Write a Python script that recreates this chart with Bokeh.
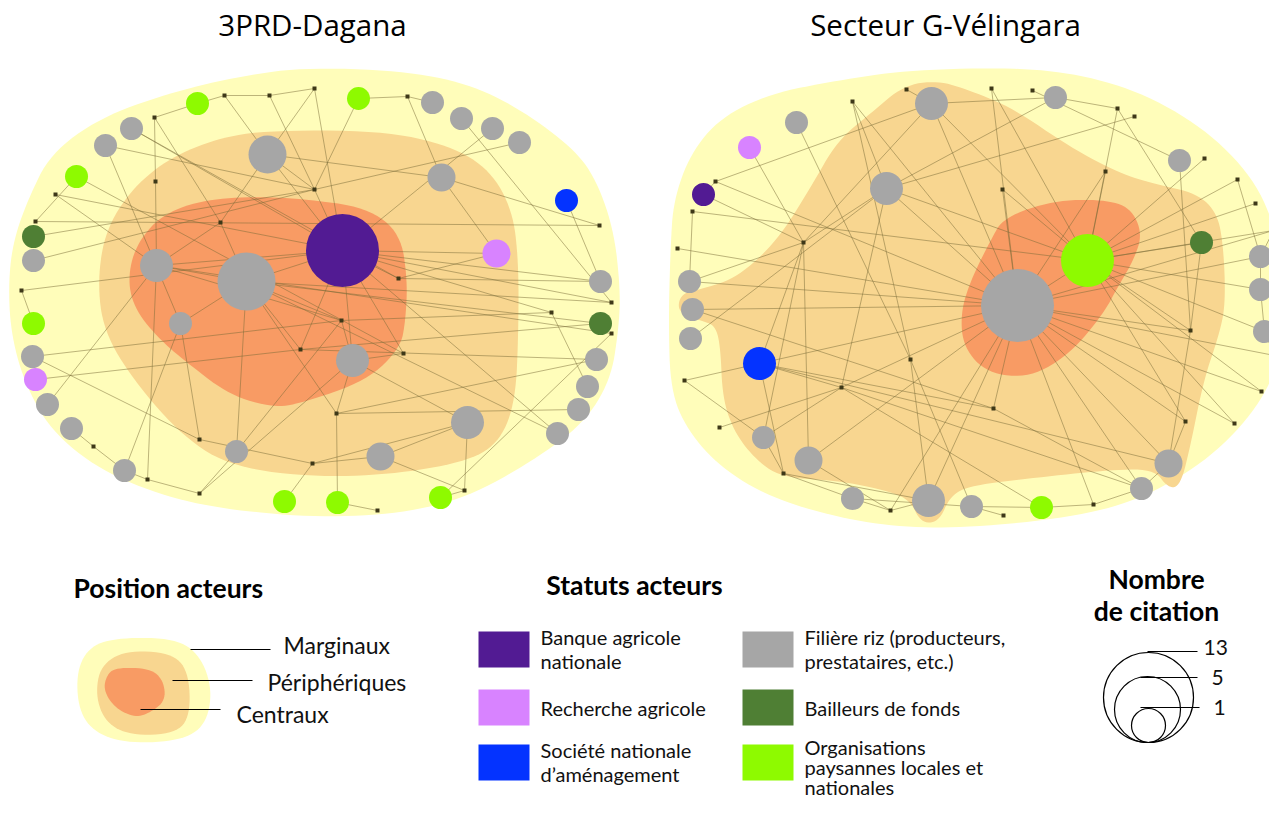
import numpy as np
from bokeh.plotting import figure
from bokeh.models import Range1d
from bokeh.embed import file_html
from bokeh.resources import INLINE
from bokeh.core.properties import value

# ---------------- DATA ----------------
titles = ["3PRD-Dagana", "Secteur G-Vélingara"]

# Left network (3PRD-Dagana): actors
left_x = [342, 246, 267, 156, 180, 352, 441, 467, 380, 236, 496, 566, 197, 358, 76, 33, 284, 337, 440, 33, 600,
          131, 105, 432, 461, 492, 519, 33, 32, 47, 71, 124, 600, 596, 587, 578, 557, 35,
          224, 269, 314, 407, 154, 155, 55, 35, 314, 220, 21, 599, 398, 93, 147, 199, 199, 300, 312, 611, 551, 611,
          341, 403, 336, 464, 377]
left_y = [250, 281, 154, 265, 323, 360, 177, 422, 456, 451, 253, 200, 103, 98, 176, 323, 501, 502, 497, 236, 323,
          128, 145, 102, 118, 128, 142, 260, 356, 404, 428, 470, 281, 359, 386, 409, 433, 379,
          95, 95, 88, 96, 117, 181, 194, 221, 189, 222, 290, 225, 278, 446, 479, 493, 439, 349, 463, 302, 312, 333,
          320, 353, 413, 490, 510]
left_type = (["banque", "riz", "riz", "riz", "riz", "riz", "riz", "riz", "riz", "riz", "recherche", "sna",
              "op", "op", "op", "op", "op", "op", "op", "bailleur", "bailleur"]
             + ["riz"] * 16 + ["recherche"] + ["point"] * 27)
left_cit = ([11, 8, 4, 3, 1, 3, 2, 3, 2, 1, 2, 1] + [1] * 26 + [0] * 27)
left_edges = [(12, 38), (38, 39), (39, 40), (38, 2), (40, 2), (39, 46), (42, 12), (42, 43), (43, 3), (42, 47),
              (22, 46), (44, 3), (44, 0), (19, 46), (27, 46), (48, 0), (48, 15), (47, 3), (47, 2), (47, 1),
              (46, 2), (46, 0), (13, 41), (41, 23), (13, 46), (40, 0), (41, 6), (6, 10), (6, 49), (24, 57),
              (25, 0), (26, 46), (11, 32), (0, 32), (0, 58), (0, 57), (10, 50), (28, 54), (37, 55), (29, 3),
              (30, 51), (51, 31), (31, 52), (52, 53), (52, 3), (53, 9), (54, 56), (54, 4), (4, 1), (9, 1),
              (16, 56), (56, 8), (5, 60), (5, 61), (5, 62), (62, 17), (62, 33), (17, 64), (7, 63), (7, 5),
              (7, 8), (7, 56), (18, 59), (58, 34), (0, 36), (20, 55), (57, 1), (59, 3), (0, 10), (0, 50),
              (0, 3), (0, 1), (0, 5), (0, 55), (0, 61), (1, 60), (1, 3), (1, 55), (1, 62), (3, 60), (2, 6),
              (2, 0), (21, 0), (14, 45), (45, 49), (5, 53), (8, 63), (63, 18), (60, 58), (50, 32), (1, 20),
              (14, 61), (21, 50), (35, 62), (36, 1), (9, 60), (22, 4), (31, 4), (28, 60), (55, 33)]

# Right network (Secteur G-Vélingara): actors
right_x = [1017, 1087, 931, 886, 759, 928, 796, 749, 703, 689, 692, 690, 763, 808, 852, 971, 1041, 1141, 1168,
           1055, 1179, 1201, 1260, 1260, 1264,
           906, 852, 715, 692, 803, 677, 991, 1032, 1117, 1134, 1204, 1105, 1002, 1237, 1255, 1273, 684, 719, 783,
           841, 910, 890, 1190, 1274, 1261, 1234, 1185, 993, 1093, 1003]
right_y = [305, 260, 103, 188, 363, 500, 122, 147, 194, 281, 309, 338, 437, 460, 498, 506, 507, 488, 463,
           97, 160, 242, 256, 289, 331,
           89, 101, 181, 211, 242, 248, 88, 90, 108, 116, 158, 171, 189, 179, 203, 230, 380, 427, 473,
           387, 359, 510, 330, 355, 391, 423, 421, 408, 504, 515]
right_type = (["riz", "op", "riz", "riz", "sna", "riz", "riz", "recherche", "banque", "riz", "riz", "riz", "riz",
               "riz", "riz", "riz", "op", "riz", "riz", "riz", "riz", "bailleur", "riz", "riz", "riz"]
              + ["point"] * 30)
right_cit = ([11, 7, 3, 3, 3, 3, 1, 1, 1, 1, 1, 1, 1, 2, 1, 1, 1, 1, 2, 1, 1, 1, 1, 1, 1] + [0] * 30)
right_edges = [(25, 2), (2, 27), (8, 29), (28, 1), (28, 9), (30, 0), (7, 29), (6, 45), (29, 2), (29, 9), (29, 3),
               (29, 13), (29, 12), (26, 3), (26, 45), (3, 34), (3, 44), (2, 19), (2, 1), (31, 0), (31, 1),
               (32, 20), (19, 33), (19, 3), (33, 1), (33, 21), (36, 1), (36, 0), (37, 0), (37, 1), (35, 1),
               (38, 1), (38, 22), (39, 1), (40, 22), (40, 0), (21, 47), (20, 47), (22, 23), (23, 24), (24, 48),
               (0, 48), (0, 49), (0, 50), (0, 51), (0, 47), (0, 18), (0, 17), (0, 52), (0, 53), (52, 17),
               (1, 51), (51, 18), (47, 18), (18, 17), (16, 53), (15, 16), (15, 54), (16, 44), (4, 18), (10, 52),
               (11, 3), (4, 41), (4, 0), (4, 43), (4, 52), (4, 29), (41, 12), (42, 44), (44, 0), (44, 12),
               (44, 17), (13, 0), (13, 46), (43, 14), (43, 5), (46, 5), (46, 0), (14, 15), (14, 46), (45, 5),
               (45, 15), (5, 0), (12, 43), (0, 1), (9, 0), (1, 50), (1, 49), (1, 21), (1, 23), (1, 24), (1, 47),
               (3, 1), (3, 0), (8, 27), (2, 0), (27, 0), (10, 0), (4, 44), (0, 22), (1, 40), (26, 0), (17, 53)]

# Position zones (outlines)
left_marg_x = [300, 400, 467, 517, 567, 593, 613, 620, 618, 610, 583, 533, 467, 400, 320, 233, 167, 100, 50, 23, 10, 8, 13, 27, 50, 100, 167, 233]
left_marg_y = [67, 70, 83, 107, 143, 173, 227, 290, 330, 380, 423, 460, 497, 513, 517, 510, 497, 470, 430, 380, 330, 280, 240, 200, 153, 117, 93, 77]
left_peri_x = [260, 380, 450, 490, 512, 518, 518, 515, 500, 470, 400, 320, 233, 183, 133, 103, 97, 105, 130, 165, 210]
left_peri_y = [130, 130, 145, 170, 210, 260, 330, 400, 440, 460, 473, 477, 467, 437, 380, 330, 280, 230, 190, 160, 140]
left_cent_x = [300, 367, 400, 407, 405, 400, 367, 300, 273, 230, 190, 160, 135, 127, 135, 160, 200, 250]
left_cent_y = [198, 207, 233, 280, 320, 347, 380, 403, 407, 395, 365, 340, 310, 280, 245, 215, 200, 196]

right_marg_x = [1003, 1070, 1137, 1203, 1253, 1277, 1286, 1285, 1279, 1253, 1203, 1137, 1070, 970, 903, 837, 770, 720, 687, 670, 668, 670, 673, 690, 720, 770, 837, 903]
right_marg_y = [67, 72, 90, 127, 177, 233, 293, 330, 363, 413, 463, 500, 517, 527, 527, 517, 497, 467, 430, 390, 320, 247, 200, 153, 117, 93, 80, 70]
right_peri_x = [903, 937, 970, 1013, 1070, 1120, 1153, 1197, 1217, 1223, 1225, 1220, 1203, 1190, 1180, 1168, 1153, 1103, 1037, 970, 950, 938, 920, 910, 887, 837, 780, 753, 733, 722, 720, 715, 700, 677, 680, 703, 737, 777, 810, 837, 870]
right_peri_y = [85, 80, 90, 108, 147, 173, 183, 193, 213, 247, 300, 330, 380, 445, 485, 488, 468, 470, 477, 485, 495, 522, 522, 500, 490, 480, 477, 457, 430, 397, 347, 325, 320, 312, 293, 288, 277, 240, 187, 140, 113]
right_cent_x = [1053, 1103, 1130, 1142, 1133, 1117, 1103, 1070, 1030, 987, 963, 960, 970, 990, 1003]
right_cent_y = [200, 199, 207, 233, 260, 287, 313, 353, 377, 373, 347, 313, 280, 240, 217]

# Legend: position
pos_labels = ["Marginaux", "Périphériques", "Centraux"]
mini_marg_x = [120, 175, 200, 212, 205, 180, 130, 95, 78, 76, 90]
mini_marg_y = [637, 638, 655, 690, 725, 740, 743, 733, 710, 670, 645]
mini_peri_x = [125, 170, 188, 190, 175, 130, 105, 95, 100]
mini_peri_y = [650, 652, 670, 715, 733, 735, 722, 695, 665]
mini_cent_x = [115, 150, 163, 165, 150, 135, 115, 103, 106]
mini_cent_y = [667, 668, 680, 700, 712, 717, 708, 690, 675]

# Legend: statuses
status_keys = ["banque", "recherche", "sna", "riz", "bailleur", "op"]
status_labels = [["Banque agricole", "nationale"], ["Recherche agricole"], ["Société nationale", "d\u2019aménagement"],
                 ["Filière riz (producteurs,", "prestataires, etc.)"], ["Bailleurs de fonds"],
                 ["Organisations", "paysannes locales et", "nationales"]]

# Legend: citation sizes
cit_values = ["13", "5", "1"]

# ---------------- STYLE ----------------
COL = {"banque": "#521B93", "recherche": "#D883FF", "sna": "#0433FF", "riz": "#A6A6A6",
       "bailleur": "#4F7F34", "op": "#8EFA00", "point": "#3E3818"}
Z_MARG, Z_PERI, Z_CENT = "#FFFDBA", "#F8D690", "#F89B64"
FONT = value("Lato")


def smooth(xs, ys, n=3):
    pts = np.column_stack([xs, ys]).astype(float)
    for _ in range(n):
        nxt = np.roll(pts, -1, axis=0)
        q = 0.75 * pts + 0.25 * nxt
        r = 0.25 * pts + 0.75 * nxt
        new = np.empty((2 * len(q), 2))
        new[0::2] = q
        new[1::2] = r
        pts = new
    return list(pts[:, 0]), list(pts[:, 1])


p = figure(width=1269, height=797, x_range=Range1d(0, 1269), y_range=Range1d(797, 0),
           output_backend="svg", toolbar_location=None, min_border=0)
p.axis.visible = False
p.grid.visible = False
p.outline_line_color = None
p.background_fill_color = "white"
p.border_fill_color = "white"

# zones
for xs, ys, c in [(left_marg_x, left_marg_y, Z_MARG), (left_peri_x, left_peri_y, Z_PERI),
                  (left_cent_x, left_cent_y, Z_CENT), (right_marg_x, right_marg_y, Z_MARG),
                  (right_peri_x, right_peri_y, Z_PERI), (right_cent_x, right_cent_y, Z_CENT),
                  (mini_marg_x, mini_marg_y, Z_MARG), (mini_peri_x, mini_peri_y, Z_PERI),
                  (mini_cent_x, mini_cent_y, Z_CENT)]:
    sx, sy = smooth(xs, ys)
    p.patch(sx, sy, fill_color=c, line_color=None)


def draw_network(xs, ys, types, cits, edges):
    x0 = [xs[a] for a, b in edges]
    y0 = [ys[a] for a, b in edges]
    x1 = [xs[b] for a, b in edges]
    y1 = [ys[b] for a, b in edges]
    p.segment(x0, y0, x1, y1, line_color="#7A6C38", line_alpha=0.5, line_width=1)
    actors = [i for i, t in enumerate(types) if t != "point"]
    pts = [i for i, t in enumerate(types) if t == "point"]
    p.scatter([xs[i] for i in actors], [ys[i] for i in actors],
              size=[18 + 5 * cits[i] for i in actors],
              fill_color=[COL[types[i]] for i in actors], line_color=None)
    p.scatter([xs[i] for i in pts], [ys[i] for i in pts], marker="square", size=4,
              fill_color=COL["point"], line_color=None)


draw_network(left_x, left_y, left_type, left_cit, left_edges)
draw_network(right_x, right_y, right_type, right_cit, right_edges)

# titles
p.text([312, 945], [24, 24], text=titles, text_font=value("Open Sans"), text_font_size="29.5px",
       text_align="center", text_baseline="middle", text_color="black")

# legend: position
p.text([73], [587], text=["Position acteurs"], text_font=FONT, text_font_size="26.5px",
       text_font_style="bold", text_baseline="middle", text_color="black")
p.segment([190, 172, 140], [649, 680, 709], [270, 252, 220], [649, 680, 709], line_color="black", line_width=1.2)
p.text([283, 267, 236], [644, 681, 713], text=pos_labels, text_font=FONT, text_font_size="23px",
       text_baseline="middle", text_color="#111111")

# legend: statuses
p.text([634], [584], text=["Statuts acteurs"], text_font=FONT, text_font_size="26.5px",
       text_font_style="bold", text_align="center", text_baseline="middle", text_color="black")
sw_left = [478, 478, 478, 742, 742, 742]
sw_top = [631, 689, 744, 631, 689, 744]
p.quad(left=sw_left, right=[v + 51 for v in sw_left], top=sw_top, bottom=[v + 36 for v in sw_top],
       fill_color=[COL[k] for k in status_keys], line_color=None)
for i, lines in enumerate(status_labels):
    tx = sw_left[i] + 62
    if len(lines) == 1:
        ys_ = [sw_top[i] + 18]
    elif len(lines) == 2:
        ys_ = [sw_top[i] + 5 + 24 * j for j in range(len(lines))]
    else:
        ys_ = [sw_top[i] + 2 + 20 * j for j in range(len(lines))]
    p.text([tx] * len(lines), ys_, text=lines, text_font=FONT, text_font_size="20px",
           text_baseline="middle", text_color="#111111")

# legend: citation
p.text([1156, 1156], [578, 610], text=["Nombre", "de citation"], text_font=FONT, text_font_size="26.5px",
       text_font_style="bold", text_align="center", text_baseline="middle", text_color="black")
p.circle([1148, 1147, 1148], [697, 709, 725], radius=[45, 33, 17], fill_color=None,
         line_color="black", line_width=1.2)
p.segment([1147, 1140, 1140], [651, 677, 707], [1197, 1197, 1199], [651, 677, 707],
          line_color="black", line_width=1.2)
p.text([1203, 1211, 1213], [647, 677, 707], text=cit_values, text_font=FONT, text_font_size="21px",
       text_baseline="middle", text_color="#111111")

open("out.html", "w").write(file_html(p, INLINE))
